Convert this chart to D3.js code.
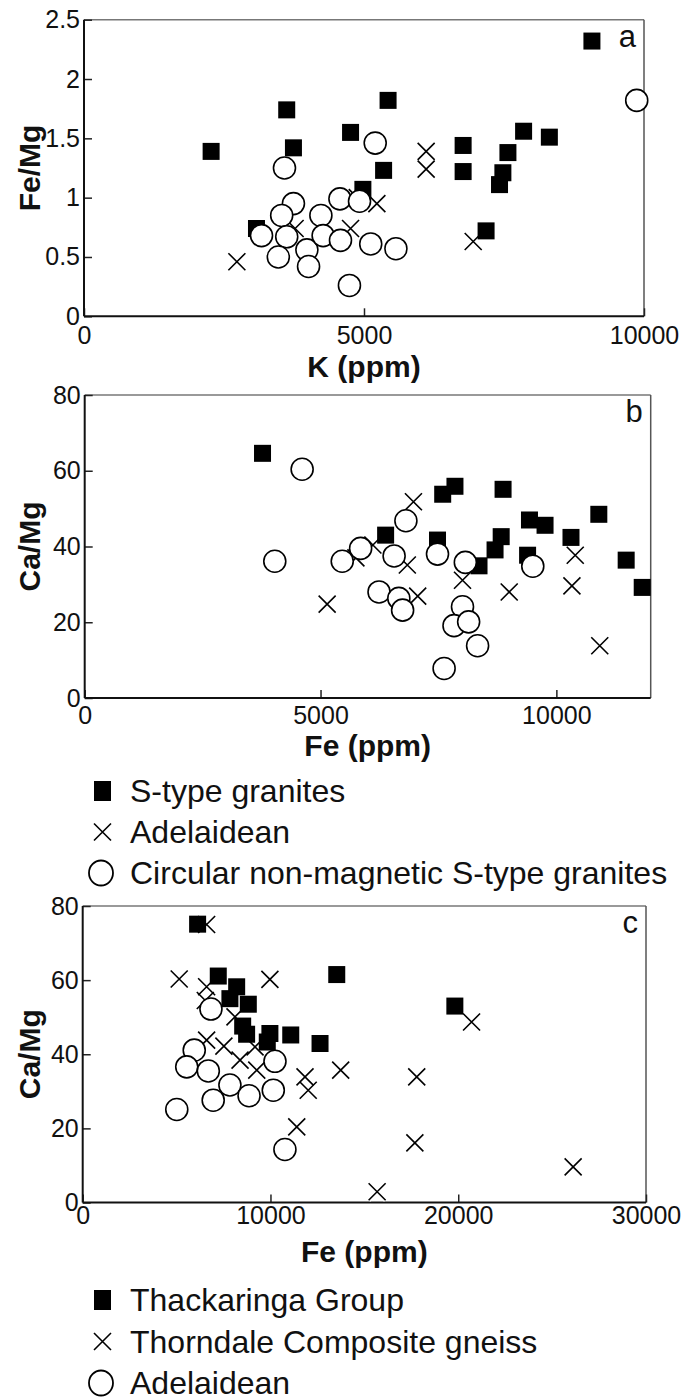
<!DOCTYPE html>
<html>
<head>
<meta charset="utf-8">
<script src="https://cdn.jsdelivr.net/npm/d3@7"></script>
<style>
  body { margin: 0; background: #fff; }
  text { font-family: "Liberation Sans", Arial, sans-serif; fill: #111; }
</style>
</head>
<body>
<svg id="chart" width="688" height="1400"></svg>
<script>
// panel a : K (ppm) vs Fe/Mg
var aSType = [[2270,1.39],[3620,1.74],[3740,1.42],[4760,1.55],[3080,0.74],[4980,1.07],[5350,1.23],[5430,1.82],
  [6770,1.44],[6770,1.22],[7570,1.38],[7850,1.56],[8310,1.51],[7480,1.21],[7420,1.11],[7180,0.72],[9070,2.32]]
var aAdelaidean = [[2730,0.46],[3770,0.74],[4760,0.74],[4880,1.0],[5230,0.95],[6110,1.39],[6110,1.24],[6950,0.63]]
var aCircular = [[3580,1.25],[3740,0.95],[3530,0.85],[3170,0.68],[3620,0.67],[3470,0.50],[3980,0.56],[4010,0.42],
  [4230,0.85],[4270,0.68],[4580,0.64],[4570,0.99],[4920,0.97],[4740,0.26],[5200,1.46],[5120,0.61],[5570,0.57],[9870,1.82]]

// panel b : Fe (ppm) vs Ca/Mg
var bSType = [[3770,64.6],[6380,43.0],[7590,53.8],[7850,55.9],[8870,55.1],[7480,41.7],[8360,34.9],[8830,42.6],
  [8700,39.1],[9430,47.0],[9760,45.6],[9390,37.7],[10310,42.4],[10900,48.5],[11480,36.4],[11820,29.2]]
var bAdelaidean = [[5140,24.8],[5750,37.0],[6110,40.4],[6970,51.8],[6840,35.1],[7060,26.9],[8010,31.1],[9000,28.0],
  [10400,37.7],[10330,29.6],[10920,13.8]]
var bCircular = [[4610,60.4],[4030,36.1],[5460,36.1],[5850,39.5],[6240,28.0],[6810,46.8],[6560,37.5],[6660,26.3],
  [6740,23.2],[7480,38.0],[8070,35.8],[8010,24.1],[7830,19.1],[8140,20.1],[8330,13.8],[7620,7.8],[9500,34.8]]

// panel c : Fe (ppm) vs Ca/Mg
var cThackaringa = [[6120,75.1],[7220,61.1],[8200,58.2],[7840,55.0],[8820,53.5],[8520,47.6],[8730,45.4],[9970,45.6],
  [9830,43.3],[11080,45.2],[12640,42.9],[13530,61.5],[19820,53.0]]
var cThorndale = [[6600,75.0],[5140,60.3],[9970,60.2],[6600,58.2],[6530,54.5],[8110,50.1],[6600,43.8],[7520,42.2],
  [8380,38.4],[9180,42.0],[9270,35.7],[11840,33.9],[12010,30.3],[13740,35.7],[11400,20.4],[15680,2.9],
  [20710,48.7],[17790,33.9],[17690,16.1],[26120,9.6]]
var cAdelaidean = [[6830,52.2],[5940,41.1],[5540,36.6],[6690,35.5],[7840,31.7],[6950,27.6],[5010,25.1],[8860,28.8],
  [10150,30.3],[10240,38.1],[10770,14.3]]

var legendB = ["S-type granites", "Adelaidean", "Circular non-magnetic S-type granites"]
var legendC = ["Thackaringa Group", "Thorndale Composite gneiss", "Adelaidean"]

var svg = d3.select("#chart")

function drawSquares(g, pts, x, y) {
  g.selectAll(".sq").data(pts).enter().append("rect")
    .attr("class", "sq")
    .attr("x", function (d) { return x(d[0]) - 8.5 })
    .attr("y", function (d) { return y(d[1]) - 8.5 })
    .attr("width", 17)
    .attr("height", 17)
    .attr("fill", "#000")
}

function drawCrosses(g, pts, x, y) {
  var crossPath = "M-8.5,-8.5L8.5,8.5M-8.5,8.5L8.5,-8.5"
  g.selectAll(".xw").data(pts).enter().append("path")
    .attr("class", "xw")
    .attr("d", crossPath)
    .attr("transform", function (d) { return "translate(" + x(d[0]) + "," + y(d[1]) + ")" })
    .attr("stroke", "#fff").attr("stroke-width", 4.5).attr("fill", "none")
  g.selectAll(".xb").data(pts).enter().append("path")
    .attr("class", "xb")
    .attr("d", crossPath)
    .attr("transform", function (d) { return "translate(" + x(d[0]) + "," + y(d[1]) + ")" })
    .attr("stroke", "#000").attr("stroke-width", 1.6).attr("fill", "none")
}

function drawCircles(g, pts, x, y) {
  g.selectAll(".ci").data(pts).enter().append("circle")
    .attr("class", "ci")
    .attr("cx", function (d) { return x(d[0]) })
    .attr("cy", function (d) { return y(d[1]) })
    .attr("r", 11)
    .attr("fill", "#fff")
    .attr("stroke", "#000")
    .attr("stroke-width", 1.6)
}

function styleAxis(a) {
  a.select(".domain").remove()
  a.selectAll("line").attr("stroke", "#222").attr("stroke-width", 1.5)
  a.selectAll("text").attr("font-size", 25).attr("font-family", "Liberation Sans, Arial, sans-serif").attr("fill", "#111")
}

function panel(p) {
  var x = d3.scaleLinear().domain(p.xDomain).range([p.left, p.right])
  var y = d3.scaleLinear().domain(p.yDomain).range([p.bottom, p.top])
  var g = svg.append("g")

  // frame: top / right lighter
  g.append("line").attr("x1", p.left).attr("x2", p.right).attr("y1", p.top).attr("y2", p.top)
    .attr("stroke", "#777").attr("stroke-width", 1.5)
  g.append("line").attr("x1", p.right).attr("x2", p.right).attr("y1", p.top).attr("y2", p.bottom)
    .attr("stroke", "#555").attr("stroke-width", 1.5)

  g.append("g").attr("transform", "translate(" + p.left + ",0)")
    .call(d3.axisLeft(y).tickValues(p.yTicks).tickSize(-8).tickPadding(4).tickFormat(function (d) { return String(d) }))
    .call(styleAxis)

  g.append("g").attr("transform", "translate(0," + p.bottom + ")")
    .call(d3.axisBottom(x).tickValues(p.xTicks).tickSize(-8).tickPadding(p.xPad).tickFormat(function (d) { return String(d) }))
    .call(styleAxis)

  g.append("line").attr("x1", p.left).attr("x2", p.left).attr("y1", p.top).attr("y2", p.bottom)
    .attr("stroke", "#111").attr("stroke-width", 2)
  g.append("line").attr("x1", p.left).attr("x2", p.right).attr("y1", p.bottom).attr("y2", p.bottom)
    .attr("stroke", "#111").attr("stroke-width", 2)

  // titles
  g.append("text").attr("x", (p.left + p.right) / 2).attr("y", p.xTitleY)
    .attr("text-anchor", "middle").attr("font-size", 30).attr("font-weight", "bold").text(p.xTitle)
  g.append("text").attr("transform", "translate(" + 40 + "," + (p.top + p.bottom) / 2 + ") rotate(-90)")
    .attr("text-anchor", "middle").attr("font-size", 30).attr("font-weight", "bold").text(p.yTitle)
  g.append("text").attr("x", p.right - 8).attr("y", p.top + 27)
    .attr("text-anchor", "end").attr("font-size", 31).text(p.tag)

  var marks = g.append("g")
  drawCrosses(marks.append("g"), p.crosses, x, y)
  drawSquares(marks.append("g"), p.squares, x, y)
  drawCircles(marks.append("g"), p.circles, x, y)
}

function legend(labels, top, step) {
  var g = svg.append("g")
  labels.forEach(function (label, i) {
    var cy = top + i * step
    if (i == 0) {
      g.append("rect").attr("x", 94).attr("y", cy - 10).attr("width", 17).attr("height", 20).attr("fill", "#000")
    } else if (i == 1) {
      g.append("path").attr("d", "M94," + (cy - 8.5) + "L111," + (cy + 8.5) + "M94," + (cy + 8.5) + "L111," + (cy - 8.5))
        .attr("stroke", "#000").attr("stroke-width", 1.6).attr("fill", "none")
    } else {
      g.append("ellipse").attr("cx", 101).attr("cy", cy).attr("rx", 12).attr("ry", 12.5)
        .attr("fill", "#fff").attr("stroke", "#000").attr("stroke-width", 1.8)
    }
    g.append("text").attr("x", 130).attr("y", cy + 11).attr("font-size", 32).text(label)
  })
}

panel({
  left: 84, right: 644, top: 19.7, bottom: 316.3,
  xDomain: [0, 10000], yDomain: [0, 2.5],
  xTicks: [0, 5000, 10000], yTicks: [0, 0.5, 1, 1.5, 2, 2.5], xPad: 10,
  xTitle: "K (ppm)", yTitle: "Fe/Mg", tag: "a", xTitleY: 377,
  squares: aSType, crosses: aAdelaidean, circles: aCircular
})

panel({
  left: 84.7, right: 650.7, top: 395, bottom: 698,
  xDomain: [0, 12000], yDomain: [0, 80],
  xTicks: [0, 5000, 10000], yTicks: [0, 20, 40, 60, 80], xPad: 8,
  xTitle: "Fe (ppm)", yTitle: "Ca/Mg", tag: "b", xTitleY: 756,
  squares: bSType, crosses: bAdelaidean, circles: bCircular
})
legend(legendB, 791, 41)

panel({
  left: 82.7, right: 646, top: 906, bottom: 1202.5,
  xDomain: [0, 30000], yDomain: [0, 80],
  xTicks: [0, 10000, 20000, 30000], yTicks: [0, 20, 40, 60, 80], xPad: 4,
  xTitle: "Fe (ppm)", yTitle: "Ca/Mg", tag: "c", xTitleY: 1262,
  squares: cThackaringa, crosses: cThorndale, circles: cAdelaidean
})
legend(legendC, 1300, 41.5)
</script>
</body>
</html>
